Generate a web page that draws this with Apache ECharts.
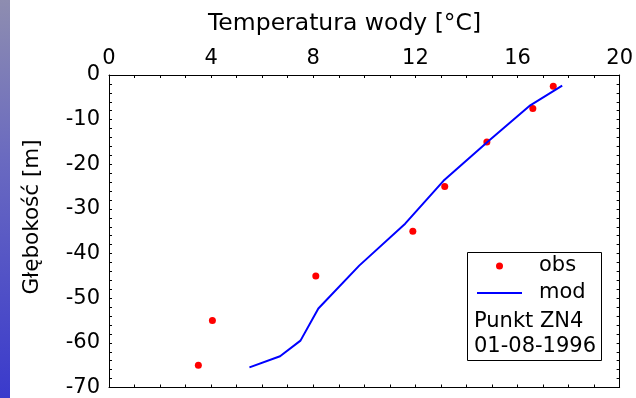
<!DOCTYPE html>
<html>
<head>
<meta charset="utf-8">
<script src="https://cdn.jsdelivr.net/npm/echarts@6/dist/echarts.min.js"></script>
<style>
  html, body { margin: 0; padding: 0; background: #ffffff; }
  #chart { width: 636px; height: 398px; }
</style>
</head>
<body>
<div id="chart"></div>
<script>
// Temperature profile, station ZN4, 01-08-1996
const obsTemp  = [17.4, 16.6, 14.8, 13.15, 11.9, 8.1, 4.05, 3.5];
const obsDepth = [-2.5, -7.5, -15, -25, -35, -45, -55, -65];

const modTemp  = [17.75, 16.5, 14.9, 13.1, 11.6, 9.8, 8.2, 7.5, 6.7, 5.5];
const modDepth = [-2.4, -6.8, -14.6, -23.7, -33.3, -42.7, -52.3, -59.5, -63, -65.5];

const tempTicks  = [0, 4, 8, 12, 16, 20];
const depthTicks = [0, -10, -20, -30, -40, -50, -60, -70];

const FONT = 'DejaVu Sans';

const pairs = (xs, ys) => xs.map((x, i) => [x, ys[i]]);

const tickStyle = { show: true, inside: true, length: 3, lineStyle: { color: '#000', width: 1 } };
const minorStyle = { show: true, length: 3, lineStyle: { color: '#000', width: 1 } };
const lineStyle = { show: true, onZero: false, lineStyle: { color: '#000', width: 1 } };

const tempAxis = (pos, labels) => ({
  type: 'value',
  position: pos,
  min: tempTicks[0],
  max: tempTicks[tempTicks.length - 1],
  interval: tempTicks[1] - tempTicks[0],
  axisLine: lineStyle,
  axisTick: tickStyle,
  minorTick: Object.assign({ splitNumber: 4 }, minorStyle),
  splitLine: { show: false },
  axisLabel: { show: labels, color: '#000', fontFamily: FONT, fontSize: 21, margin: 6 }
});

const depthAxis = (pos, labels) => ({
  type: 'value',
  position: pos,
  min: depthTicks[depthTicks.length - 1],
  max: depthTicks[0],
  interval: depthTicks[0] - depthTicks[1],
  axisLine: lineStyle,
  axisTick: tickStyle,
  minorTick: Object.assign({ splitNumber: 5 }, minorStyle),
  splitLine: { show: false },
  axisLabel: { show: labels, color: '#000', fontFamily: FONT, fontSize: 21, margin: 9 }
});

const chart = echarts.init(document.getElementById('chart'));
chart.setOption({
  backgroundColor: '#ffffff',
  animation: false,
  title: {
    text: 'Temperatura wody [°C]',
    left: 208,
    top: 12,
    padding: 0,
    textStyle: { color: '#000', fontFamily: FONT, fontSize: 23.5, fontWeight: 'normal' }
  },
  grid: { left: 109, right: 15, top: 75, bottom: 7, containLabel: false },
  xAxis: [tempAxis('top', true), tempAxis('bottom', false)],
  yAxis: [depthAxis('left', true), depthAxis('right', false)],
  legend: {
    orient: 'vertical',
    left: 477,
    top: 254,
    padding: 0,
    itemWidth: 45,
    itemHeight: 7,
    itemGap: 3,
    data: [
      { name: 'obs', icon: 'circle' },
      { name: 'mod', icon: 'path://M0,0L45,0L45,2L0,2Z' }
    ],
    textStyle: { color: '#000', fontFamily: FONT, fontSize: 21, lineHeight: 24, padding: [0, 0, 0, 12] }
  },
  graphic: [
    {
      type: 'rect',
      z: 0,
      shape: { x: 0, y: 0, width: 10, height: 398 },
      style: {
        fill: new echarts.graphic.LinearGradient(0, 0, 0, 1, [
          { offset: 0, color: '#8e8db0' },
          { offset: 0.4, color: '#6a6ac0' },
          { offset: 1, color: '#3a3acc' }
        ])
      }
    },
    {
      type: 'text',
      x: 32.5,
      y: 217,
      rotation: Math.PI / 2,
      style: {
        text: 'Głębokość [m]',
        fill: '#000',
        font: '21.5px "DejaVu Sans"',
        textAlign: 'center',
        textVerticalAlign: 'middle'
      }
    },
    {
      type: 'rect',
      z: 1,
      shape: { x: 467.5, y: 252.5, width: 134, height: 108 },
      style: { fill: '#ffffff', stroke: '#000', lineWidth: 1 }
    },
    {
      type: 'text',
      z: 2,
      x: 474,
      y: 322,
      style: { text: 'Punkt ZN4', fill: '#000', font: '21px "DejaVu Sans"', textVerticalAlign: 'middle' }
    },
    {
      type: 'text',
      z: 2,
      x: 474,
      y: 346.5,
      style: { text: '01-08-1996', fill: '#000', font: '21px "DejaVu Sans"', textVerticalAlign: 'middle' }
    }
  ],
  series: [
    {
      name: 'obs',
      type: 'scatter',
      xAxisIndex: 0,
      yAxisIndex: 0,
      symbol: 'circle',
      symbolSize: 7,
      itemStyle: { color: '#ff0000', opacity: 1 },
      data: pairs(obsTemp, obsDepth)
    },
    {
      name: 'mod',
      type: 'line',
      xAxisIndex: 0,
      yAxisIndex: 0,
      symbol: 'none',
      showSymbol: false,
      lineStyle: { color: '#0000ff', width: 2 },
      itemStyle: { color: '#0000ff' },
      data: pairs(modTemp, modDepth)
    }
  ]
});
</script>
</body>
</html>
